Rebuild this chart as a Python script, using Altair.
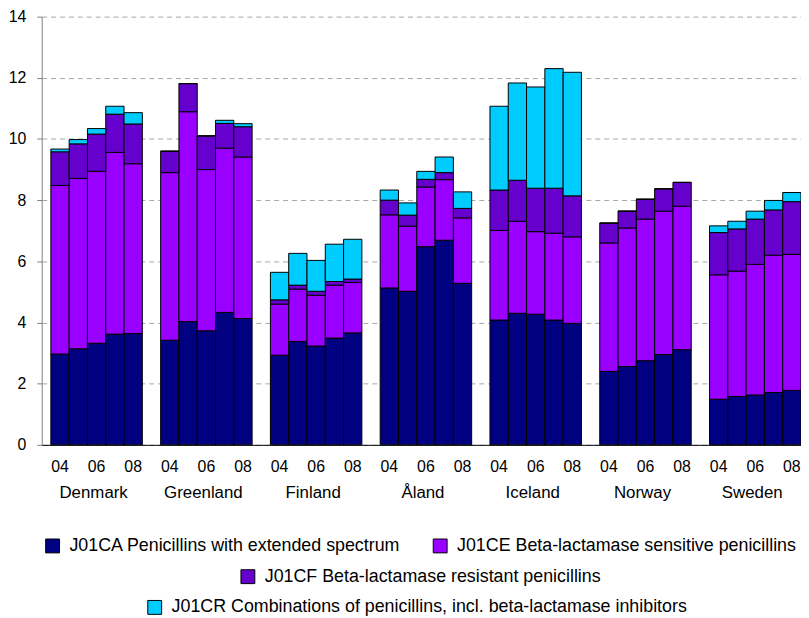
import altair as alt
import pandas as pd

countries = ["Denmark", "Greenland", "Finland", "Åland", "Iceland", "Norway", "Sweden"]
years = ["04", "05", "06", "07", "08"]
categories = [
    "J01CA Penicillins with extended spectrum",
    "J01CE Beta-lactamase sensitive penicillins",
    "J01CF Beta-lactamase resistant penicillins",
    "J01CR Combinations of penicillins, incl. beta-lactamase inhibitors",
]
colors = ["#000080", "#9900FF", "#6600CC", "#00CCFF"]

# DDD per 1000 inhabitants per day, 2004-2008 for each country
ca = [2.97, 3.14, 3.32, 3.62, 3.64,
      3.42, 4.03, 3.73, 4.33, 4.13,
      2.93, 3.38, 3.23, 3.49, 3.66,
      5.13, 5.02, 6.48, 6.69, 5.28,
      4.08, 4.30, 4.27, 4.08, 3.97,
      2.40, 2.56, 2.75, 2.95, 3.11,
      1.49, 1.58, 1.63, 1.71, 1.78]
ce = [5.51, 5.57, 5.62, 5.94, 5.55,
      5.48, 6.86, 5.27, 5.37, 5.28,
      1.67, 1.71, 1.66, 1.73, 1.65,
      2.39, 2.13, 1.95, 1.98, 2.14,
      2.93, 3.01, 2.70, 2.84, 2.83,
      4.20, 4.53, 4.63, 4.69, 4.69,
      4.07, 4.10, 4.27, 4.49, 4.45]
cf = [1.10, 1.13, 1.22, 1.25, 1.30,
      0.70, 0.92, 1.10, 0.81, 0.99,
      0.14, 0.13, 0.13, 0.12, 0.11,
      0.48, 0.36, 0.25, 0.23, 0.31,
      1.32, 1.34, 1.42, 1.47, 1.34,
      0.65, 0.55, 0.65, 0.73, 0.78,
      1.38, 1.38, 1.48, 1.48, 1.72]
cr = [0.09, 0.14, 0.18, 0.26, 0.37,
      0.00, 0.00, 0.00, 0.10, 0.10,
      0.90, 1.04, 1.01, 1.22, 1.30,
      0.33, 0.40, 0.26, 0.51, 0.54,
      2.74, 3.18, 3.31, 3.91, 4.04,
      0.00, 0.00, 0.00, 0.00, 0.00,
      0.22, 0.25, 0.26, 0.31, 0.30]
y_ticks = [0, 2, 4, 6, 8, 10, 12, 14]
shown_years = ["04", "06", "08"]

FONT = "Liberation Sans"

rows = []
for ci, c in enumerate(countries):
    for yi, yr in enumerate(years):
        i = ci * 5 + yi
        for k, vals in enumerate([ca, ce, cf, cr]):
            rows.append({"key": f"{c} {yr}", "cat": categories[k], "order": k, "value": vals[i]})
df = pd.DataFrame(rows)

domain = []
for ci, c in enumerate(countries):
    if ci > 0:
        domain.append(f"gap{ci}")
    domain += [f"{c} {yr}" for yr in years]

labels_df = pd.DataFrame({"key": [f"{c} 06" for c in countries], "country": countries})

x_enc = alt.X(
    "key:N",
    scale=alt.Scale(domain=domain, paddingInner=0, paddingOuter=0.25, align=1),
    axis=alt.Axis(
        title=None,
        labelExpr="indexof(['04','06','08'], slice(datum.value, -2)) >= 0 ? slice(datum.value, -2) : ''",
        labelAngle=0, ticks=False, tickSize=0, labelPadding=13.5, labelFontSize=16,
        labelColor="black", domainColor="black", domainWidth=1, grid=False,
        labelOverlap=False,
    ),
)
y_enc = alt.Y(
    "y1:Q",
    scale=alt.Scale(domain=[0, 14], nice=False),
    axis=alt.Axis(
        title=None, values=y_ticks, grid=True, gridDash=[5, 4], gridColor="#a6a6a6",
        domainColor="#808080", tickColor="#808080", tickSize=5, labelPadding=11,
        labelFontSize=16, labelColor="black",
    ),
)

base = alt.Chart(df).transform_stack(
    stack="value", groupby=["key"], as_=["y0", "y1"], sort=[alt.SortField("order")]
)


def legend(x, y):
    return alt.Legend(
        orient="none", legendX=x, legendY=y, direction="horizontal", title=None,
        symbolType="square", symbolSize=196, symbolStrokeColor="black",
        symbolStrokeWidth=1, labelFontSize=18, labelFont=FONT, labelColor="black",
        labelOffset=8, columnPadding=30, labelLimit=2000,
    )


groups = [([0, 1], (2, 525)), ([2], (199, 556)), ([3], (105, 587))]
layers = []
for idx, pos in groups:
    cats = [categories[i] for i in idx]
    cols = [colors[i] for i in idx]
    layers.append(
        base.transform_filter(alt.FieldOneOfPredicate(field="cat", oneOf=cats))
        .mark_bar(stroke="black", strokeWidth=1)
        .encode(
            x=x_enc,
            y=y_enc,
            y2="y0:Q",
            color=alt.Color("cat:N", scale=alt.Scale(domain=cats, range=cols), legend=legend(*pos)),
        )
    )

text_layer = alt.Chart(labels_df).mark_text(
    baseline="middle", align="center", fontSize=17, font=FONT, color="black", dx=-3
).encode(x=x_enc, text="country:N", y=alt.value(481))

chart = (
    alt.layer(*layers, text_layer)
    .resolve_scale(color="independent")
    .properties(
        width=766, height=432,
        padding={"left": 34, "top": 6, "right": 0, "bottom": 172},
        autosize=alt.AutoSizeParams(type="none"),
        background="white",
    )
    .configure(font=FONT)
    .configure_view(stroke=None)
    .configure_axis(labelFont=FONT)
)

chart.save("out.html", embed_options={"renderer": "svg", "actions": False})
